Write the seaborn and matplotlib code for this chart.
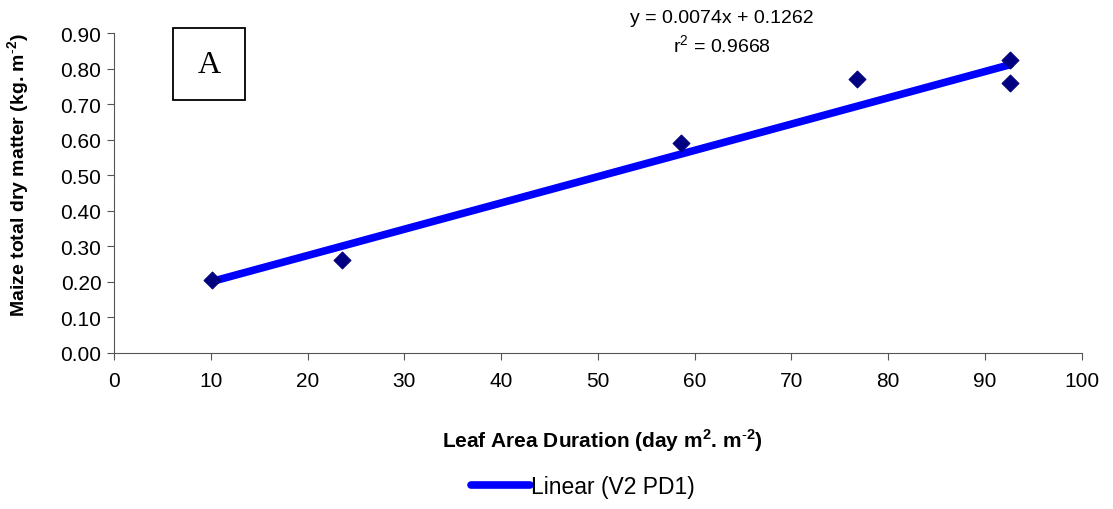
import numpy as np
import pandas as pd
import matplotlib
matplotlib.use('Agg')
import matplotlib.pyplot as plt
import seaborn as sns
from matplotlib.patches import Rectangle

# data
lad = [10.1, 23.6, 58.6, 76.8, 92.6, 92.6]
dry_matter = [0.205, 0.262, 0.590, 0.770, 0.825, 0.760]
slope = 0.0074
intercept = 0.1262
r2 = 0.9668

sns.set_style('ticks')
plt.rcParams['font.family'] = ['Liberation Sans', 'DejaVu Sans']
plt.rcParams['mathtext.fontset'] = 'custom'
plt.rcParams['mathtext.rm'] = 'Liberation Sans'
plt.rcParams['mathtext.bf'] = 'Liberation Sans:bold'
plt.rcParams['text.color'] = 'black'
plt.rcParams['axes.labelcolor'] = 'black'
plt.rcParams['xtick.color'] = 'black'
plt.rcParams['ytick.color'] = 'black'

df = pd.DataFrame({'lad': lad, 'tdm': dry_matter})
x_fit = np.array([min(lad), max(lad)])
fit = pd.DataFrame({'lad': x_fit, 'tdm': slope * x_fit + intercept})

fig = plt.figure(figsize=(11.13, 5.10), dpi=100)
ax = fig.add_axes([0.1024, 0.306, 0.8696, 0.627])

sns.lineplot(data=fit, x='lad', y='tdm', ax=ax, color='#0000FF', linewidth=5.5,
             label='Linear (V2 PD1)', zorder=2)
sns.scatterplot(data=df, x='lad', y='tdm', ax=ax, marker='D', s=75, color='#000080',
                edgecolor='#000080', zorder=3, legend=False)

ax.set_xlim(0, 100)
ax.set_ylim(0, 0.9)
ax.set_xticks(np.arange(0, 101, 10))
ax.set_yticks(np.arange(0, 0.91, 0.1))
ax.set_yticklabels([f'{v:.2f}' for v in np.arange(0, 0.91, 0.1)])
ax.tick_params(labelsize=15, length=5, color='#555555')
ax.tick_params(axis='x', pad=8)
ax.tick_params(axis='y', pad=4)
for s in ['left', 'bottom']:
    ax.spines[s].set_color('#555555')
sns.despine(ax=ax)

ax.set_xlabel(r'Leaf Area Duration (day m$^{\mathbf{2}}$. m$^{\mathbf{\text{-}2}}$)', fontsize=15,
              fontweight='bold')
ax.set_ylabel(r'Maize total dry matter (kg. m$^{\mathbf{\text{-}2}}$)', fontsize=14,
              fontweight='bold')
ax.xaxis.set_label_coords(0.505, -0.23)
ax.yaxis.set_label_coords(-0.085, 0.56)

# panel label box
ax.add_patch(Rectangle((0.061, 0.791), 0.0744, 0.225, transform=ax.transAxes, fill=True,
                       facecolor='white', edgecolor='black', linewidth=1.3, clip_on=False, zorder=4))
ax.text(0.061 + 0.0372, 0.791 + 0.1125, 'A', fontsize=23, family='Liberation Serif',
        ha='center', va='center', transform=ax.transAxes, zorder=5)

ax.text(62.8, 0.945, f'y = {slope}x + {intercept}', fontsize=14, ha='center', va='center',
        clip_on=False)
ax.text(62.8, 0.866, f'r$^2$ = {r2}', fontsize=14, ha='center', va='center')

ax.legend(loc='center', bbox_to_anchor=(0.4845, -0.419), frameon=False, fontsize=16.5,
          handlelength=2.6, handletextpad=0.05)

fig.savefig('out.png', dpi=100)
